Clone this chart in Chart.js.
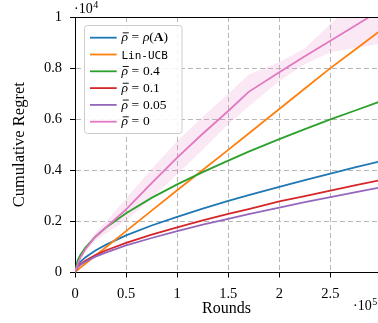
<!DOCTYPE html>
<html><head><meta charset="utf-8">
<script src="https://cdn.jsdelivr.net/npm/chart.js@4.4.1/dist/chart.umd.min.js"></script>
<style>html,body{margin:0;padding:0;background:#fff;}canvas{display:block;}</style>
</head><body>
<canvas id="c" width="378" height="323"></canvas>
<script>
// ---- data ----
const rounds = [0, 2500, 5000, 10000, 20000, 30000, 50000, 75000, 100000, 125000, 150000, 170000, 200000, 225000, 250000, 275000, 300000];
const regretRhoA   = [0, 280, 410, 590, 860, 1080, 1450, 1840, 2180, 2500, 2800, 3030, 3350, 3620, 3870, 4120, 4360];
const regretLinUCB = [0, 100, 180, 340, 660, 980, 1620, 2420, 3220, 4010, 4800, 5440, 6400, 7200, 8000, 8750, 9500];
const regretRho04  = [0, 470, 670, 970, 1400, 1750, 2320, 2920, 3450, 3930, 4380, 4730, 5220, 5610, 5990, 6350, 6710];
const regretRho01  = [0, 220, 320, 460, 680, 860, 1160, 1480, 1770, 2040, 2290, 2480, 2780, 2990, 3200, 3420, 3620];
const regretRho005 = [0, 200, 290, 420, 620, 780, 1060, 1350, 1620, 1870, 2100, 2280, 2540, 2750, 2950, 3150, 3340];
const regretRho0   = [0, 300, 560, 900, 1400, 1750, 2470, 3500, 4500, 5430, 6320, 7070, 7840, 8460, 9070, 9680, 10300];
const regretRho0Upper = [0, 330, 620, 1000, 1560, 1980, 2900, 4050, 5150, 6100, 7000, 7750, 8230, 8780, 9730, 10600, 11400];
const regretRho0Lower = [0, 270, 500, 800, 1240, 1520, 2040, 2900, 3850, 4800, 5800, 6500, 7500, 8150, 8620, 8800, 8950];
const seriesLabels = ['ρ̄ = ρ(A)', 'Lin-UCB', 'ρ̄ = 0.4', 'ρ̄ = 0.1', 'ρ̄ = 0.05', 'ρ̄ = 0'];
const xTicks = [0, 50000, 100000, 150000, 200000, 250000];
const yTicks = [0, 2000, 4000, 6000, 8000, 10000];
const xTitle = 'Rounds';
const yTitle = 'Cumulative Regret';

// ---- styles ----
const FONT = "'Liberation Serif', 'DejaVu Serif', serif";
const colors = ['#1f77b4', '#ff7f0e', '#2ca02c', '#d62728', '#9467bd', '#e377c2'];
const seriesValues = [regretRhoA, regretLinUCB, regretRho04, regretRho01, regretRho005, regretRho0];
const pts = (arr) => arr.map((v, i) => ({x: rounds[i], y: v}));

const datasets = [
  {label: 'band lower', data: pts(regretRho0Lower), borderWidth: 0, pointRadius: 0, fill: false, order: 20, clip: 0, isBand: true},
  {label: 'band upper', data: pts(regretRho0Upper), borderWidth: 0, pointRadius: 0, fill: '-1',
   backgroundColor: 'rgba(227,119,194,0.16)', order: 19, clip: 0, isBand: true},
];
seriesValues.forEach((vals, i) => {
  datasets.push({
    label: seriesLabels[i], data: pts(vals), borderColor: colors[i], backgroundColor: colors[i],
    borderWidth: 1.8, pointRadius: 0, fill: false, tension: 0, order: 10 - i, clip: 0
  });
});

function drawRich(ctx, text, x, y, size) {
  const chars = Array.from(text);
  let px = x, prevX = x, prevW = 0;
  for (const ch of chars) {
    if (ch === '\u0304') { ctx.fillRect(prevX + 1.2, y - size * 0.66, prevW - 0.4, 0.9); continue; }
    if (ch === ' ') { px += size * 0.27; continue; }
    let font = `${size}px ${FONT}`;
    if (ch === 'ρ') font = `italic ${size}px ${FONT}`;
    else if (ch === 'A') font = `bold ${size}px ${FONT}`;
    ctx.font = font;
    ctx.fillText(ch, px, y);
    const w = ctx.measureText(ch).width;
    prevX = px; prevW = w; px += w;
  }
}

const decorPlugin = {
  id: 'decor',
  afterDatasetsDraw(chart) {
    const ctx = chart.ctx, a = chart.chartArea;
    ctx.save();
    // top spine
    ctx.strokeStyle = '#000'; ctx.lineWidth = 1;
    ctx.beginPath(); ctx.moveTo(a.left, Math.round(a.top) + 0.5); ctx.lineTo(a.right, Math.round(a.top) + 0.5); ctx.stroke();
    // legend frame
    const lx = 84.5, ly = 25.5, lw = 97.5, lh = 108;
    ctx.beginPath(); ctx.roundRect(lx, ly, lw, lh, 3);
    ctx.fillStyle = 'rgba(255,255,255,0.85)'; ctx.fill();
    ctx.strokeStyle = '#cccccc'; ctx.lineWidth = 1; ctx.stroke();
    const items = chart.data.datasets.filter(d => !d.isBand);
    items.forEach((d, i) => {
      const cy = 37.7 + i * 16.8;
      ctx.strokeStyle = d.borderColor; ctx.lineWidth = 1.8;
      ctx.beginPath(); ctx.moveTo(90, cy); ctx.lineTo(116.7, cy); ctx.stroke();
      ctx.fillStyle = '#000'; ctx.textBaseline = 'alphabetic'; ctx.textAlign = 'left';
      if (d.label === 'Lin-UCB') {
        ctx.font = "11px 'DejaVu Sans Mono', monospace";
        ctx.fillText(d.label, 121.5, cy + 4);
      } else {
        drawRich(ctx, d.label, 121.5, cy + 3.6, 13.5);
      }
    });
    // offset (exponent) labels
    ctx.fillStyle = '#000'; ctx.textBaseline = 'alphabetic'; ctx.textAlign = 'left';
    const drawExp = (x, y, base, exp) => {
      ctx.font = `14px ${FONT}`;
      ctx.fillText(base, x, y);
      const w = ctx.measureText(base).width;
      ctx.font = `10px ${FONT}`;
      ctx.fillText(exp, x + w + 0.5, y - 4.5);
    };
    drawExp(74, 12.7, '·10', '4');
    drawExp(353, 309.5, '·10', '5');
    ctx.restore();
  }
};

new Chart(document.getElementById('c'), {
  type: 'line',
  data: {datasets},
  options: {
    responsive: false, animation: false, devicePixelRatio: 1,
    layout: {padding: {top: 17, right: 0, left: 0, bottom: 0}},
    plugins: {legend: {display: false}, tooltip: {enabled: false}},
    elements: {line: {borderCapStyle: 'butt'}},
    scales: {
      x: {
        type: 'linear', min: 0, max: 296600,
        afterFit: (s) => { s.height = 50.5; },
        afterBuildTicks: (s) => { s.ticks = xTicks.map(v => ({value: v})); },
        ticks: {includeBounds: false, padding: 8, color: '#000', font: {family: FONT, size: 14.5},
                callback: (v) => String(v / 1e5), maxRotation: 0},
        grid: {color: '#b8b8b8', lineWidth: 1, tickColor: '#000', tickLength: 5, tickWidth: 1},
        border: {color: '#000', width: 1, dash: [5, 3]},
        title: {display: true, text: xTitle, color: '#000', font: {family: FONT, size: 16}, padding: {top: 0, bottom: 5}}
      },
      y: {
        type: 'linear', min: 0, max: 10000,
        afterFit: (s) => { s.width = 75; },
        afterBuildTicks: (s) => { s.ticks = yTicks.map(v => ({value: v})); },
        ticks: {padding: 8, color: '#000', font: {family: FONT, size: 14.5},
                callback: (v) => String(v / 1e4)},
        grid: {color: '#b8b8b8', lineWidth: 1, tickColor: '#000', tickLength: 5, tickWidth: 1},
        border: {color: '#000', width: 1, dash: [5, 3]},
        title: {display: true, text: yTitle, color: '#000', font: {family: FONT, size: 16.5}, padding: {top: 10, bottom: 0}}
      }
    }
  },
  plugins: [decorPlugin]
});
</script>
</body></html>
